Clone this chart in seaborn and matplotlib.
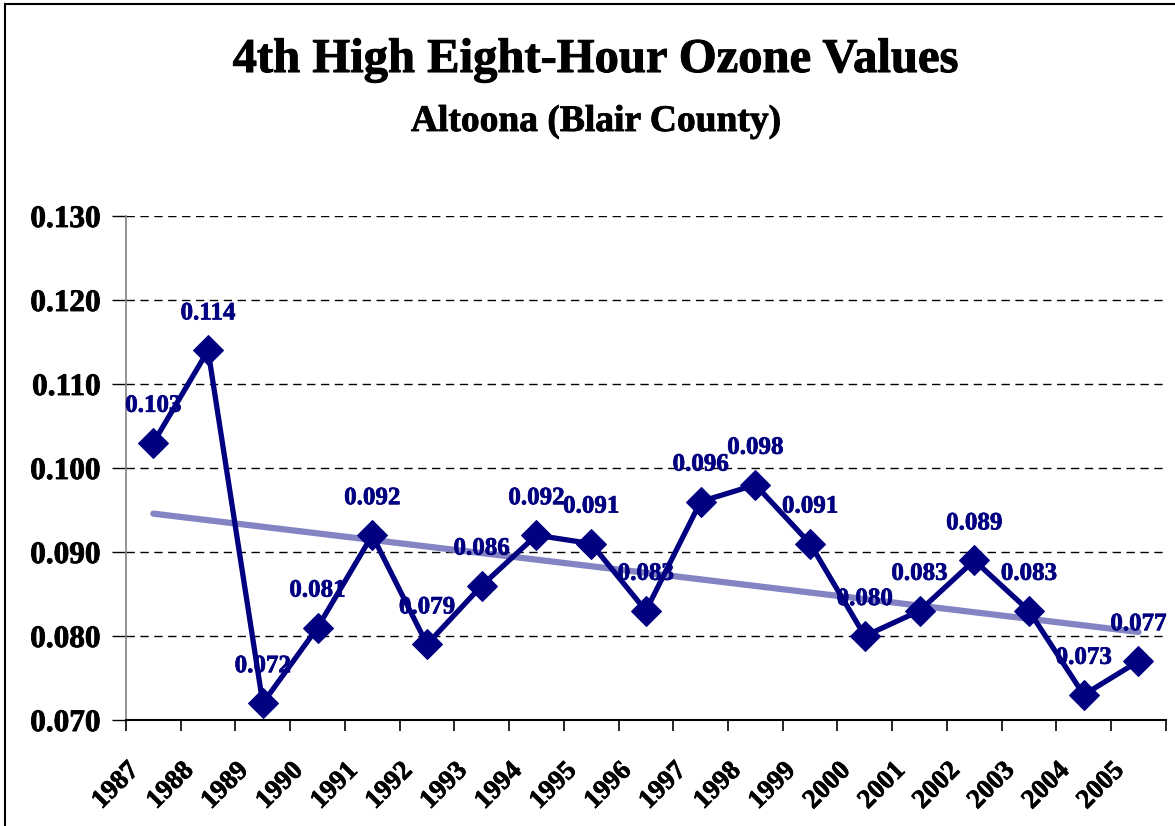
import numpy as np
import pandas as pd
import seaborn as sns
import matplotlib.pyplot as plt
import matplotlib.patheffects as pe
from matplotlib.patches import Rectangle

# Chart data
years = [str(y) for y in range(1987, 2006)]
ozone = [0.103, 0.114, 0.072, 0.081, 0.092, 0.079, 0.086, 0.092, 0.091, 0.083,
         0.096, 0.098, 0.091, 0.080, 0.083, 0.089, 0.083, 0.073, 0.077]
y_ticks = [0.070, 0.080, 0.090, 0.100, 0.110, 0.120, 0.130]

title = "4th High Eight-Hour Ozone Values"
subtitle = "Altoona (Blair County)"

navy = "#000080"
trend_color = "#8484C4"

df = pd.DataFrame({"pos": np.arange(len(years)), "year": years, "value": ozone})

sns.set_style("white")
plt.rcParams["font.family"] = ["Liberation Serif", "DejaVu Serif"]
plt.rcParams["font.weight"] = "bold"
plt.rcParams["text.color"] = "black"
plt.rcParams["xtick.color"] = "black"
plt.rcParams["ytick.color"] = "black"

def heavy(color, lw=0.5):
    # thicken the bold serif a little, like the original rendering
    return [pe.withStroke(linewidth=lw, foreground=color)]

fig = plt.figure(figsize=(11.75, 8.26), dpi=100)
ax = fig.add_axes([0.1072, 0.1283, 0.885, 0.6102])

# Linear trend line (Excel style) underneath the series
sns.regplot(data=df, x="pos", y="value", scatter=False, ci=None, ax=ax,
            line_kws={"color": trend_color, "linewidth": 4.5, "zorder": 2})

# Main series
sns.lineplot(data=df, x="pos", y="value", ax=ax, color=navy, linewidth=3.8,
             marker="D", markersize=15, markeredgecolor=navy, zorder=3)

# Data labels
for x, v in zip(df["pos"], df["value"]):
    ax.annotate(f"{v:.3f}", (x, v), xytext=(0, 27), textcoords="offset points",
                ha="center", va="center", color=navy, fontsize=18,
                fontweight="bold", zorder=4, path_effects=heavy(navy))

ax.set_xlim(-0.5, len(years) - 0.5)
ax.set_ylim(0.070, 0.130)
ax.set_yticks(y_ticks)
ax.set_yticklabels([f"{t:.3f}" for t in y_ticks], fontsize=22.5, fontweight="bold")
for lbl in ax.get_yticklabels():
    lbl.set_path_effects(heavy("black", 0.6))

# tick marks between categories; year labels placed on the categories
ax.set_xticks(np.arange(len(years) + 1) - 0.5)
ax.set_xticklabels([])
for x, yr in zip(df["pos"], df["year"]):
    ax.annotate(yr, (x, 0), xycoords=("data", "axes fraction"),
                xytext=(-27, -38), textcoords="offset pixels",
                rotation=45, rotation_mode="anchor", ha="right", va="top",
                fontsize=19.5, fontweight="bold", annotation_clip=False,
                path_effects=heavy("black"))

ax.tick_params(axis="x", direction="out", length=8, width=1.2,
               color="black", bottom=True)
ax.tick_params(axis="y", direction="out", length=10, width=1, color="black",
               left=True, pad=8)

ax.set_xlabel("")
ax.set_ylabel("")
ax.grid(axis="y", color="black", linestyle=(0, (6, 4)), linewidth=1)
ax.grid(axis="x", visible=False)
ax.set_axisbelow(True)

for side in ["top", "right"]:
    ax.spines[side].set_visible(False)
ax.spines["left"].set_color("#808080")
ax.spines["left"].set_linewidth(1.2)
ax.spines["bottom"].set_color("black")
ax.spines["bottom"].set_linewidth(1.5)

fig.text(0.507, 0.9128, title, ha="center", va="baseline", fontsize=35,
         fontweight="bold", path_effects=heavy("black", 0.7))
fig.text(0.507, 0.8414, subtitle, ha="center", va="baseline", fontsize=27,
         fontweight="bold", path_effects=heavy("black", 0.6))

# chart border
fig.patches.append(Rectangle((5 / 1175, -0.01), 1.1, 1 - 4 / 826 + 0.01,
                             transform=fig.transFigure, fill=False,
                             edgecolor="black", linewidth=1.5))

fig.savefig("out.png", dpi=100)
